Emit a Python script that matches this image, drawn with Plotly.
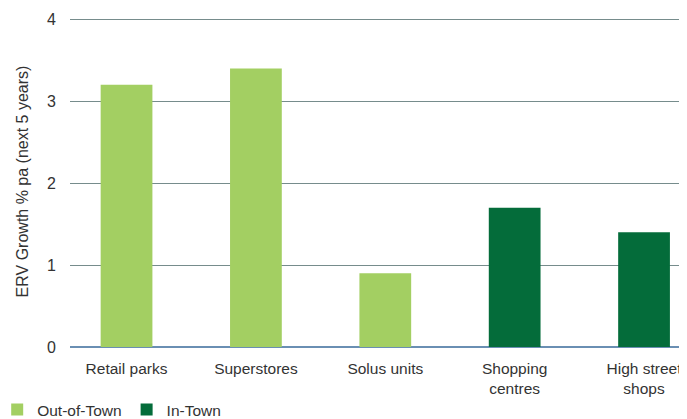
import plotly.graph_objects as go

categories = ["Retail parks", "Superstores", "Solus units", "Shopping<br>centres", "High street<br>shops"]
out_of_town_cats = categories[:3]
out_of_town_vals = [3.2, 3.4, 0.9]
in_town_cats = categories[3:]
in_town_vals = [1.7, 1.4]
y_ticks = [0, 1, 2, 3, 4]

fig = go.Figure()
fig.add_trace(go.Bar(x=out_of_town_cats, y=out_of_town_vals, name="Out-of-Town",
                     marker=dict(color="#a3cf62", line=dict(width=0)), width=0.4))
fig.add_trace(go.Bar(x=in_town_cats, y=in_town_vals, name="In-Town",
                     marker=dict(color="#046c3a", line=dict(width=0)), width=0.4))

# the page body adds an 8px offset, so the figure is 8px smaller and margins are reduced accordingly
fig.update_layout(
    width=679, height=411,
    margin=dict(l=62, r=0, t=8, b=72, autoexpand=False),
    paper_bgcolor="white", plot_bgcolor="white",
    barmode="overlay",
    font=dict(family="Liberation Sans, Arial, sans-serif", size=15, color="#333333"),
    showlegend=True,
    legend=dict(orientation="h", x=-0.118, xanchor="left", y=-0.19, yanchor="middle",
                font=dict(size=15.5, color="#333333"), itemwidth=30, traceorder="normal"),
    xaxis=dict(type="category", categoryorder="array", categoryarray=categories,
               range=[-0.437, 4.332], showgrid=False, showline=False, ticks="",
               automargin=False, ticklabelstandoff=10,
               tickfont=dict(size=15.5, color="#333333")),
    yaxis=dict(range=[0, 4.04], tickvals=y_ticks, showgrid=True, gridcolor="#768c8c", gridwidth=1,
               zeroline=True, zerolinecolor="#6a8fb3", zerolinewidth=1.5,
               ticks="", ticklabelstandoff=13, automargin=False,
               title=dict(text="ERV Growth % pa (next 5 years)", font=dict(size=16, color="#333333"), standoff=14),
               tickfont=dict(size=16, color="#333333")),
)

fig.write_html("out.html")
